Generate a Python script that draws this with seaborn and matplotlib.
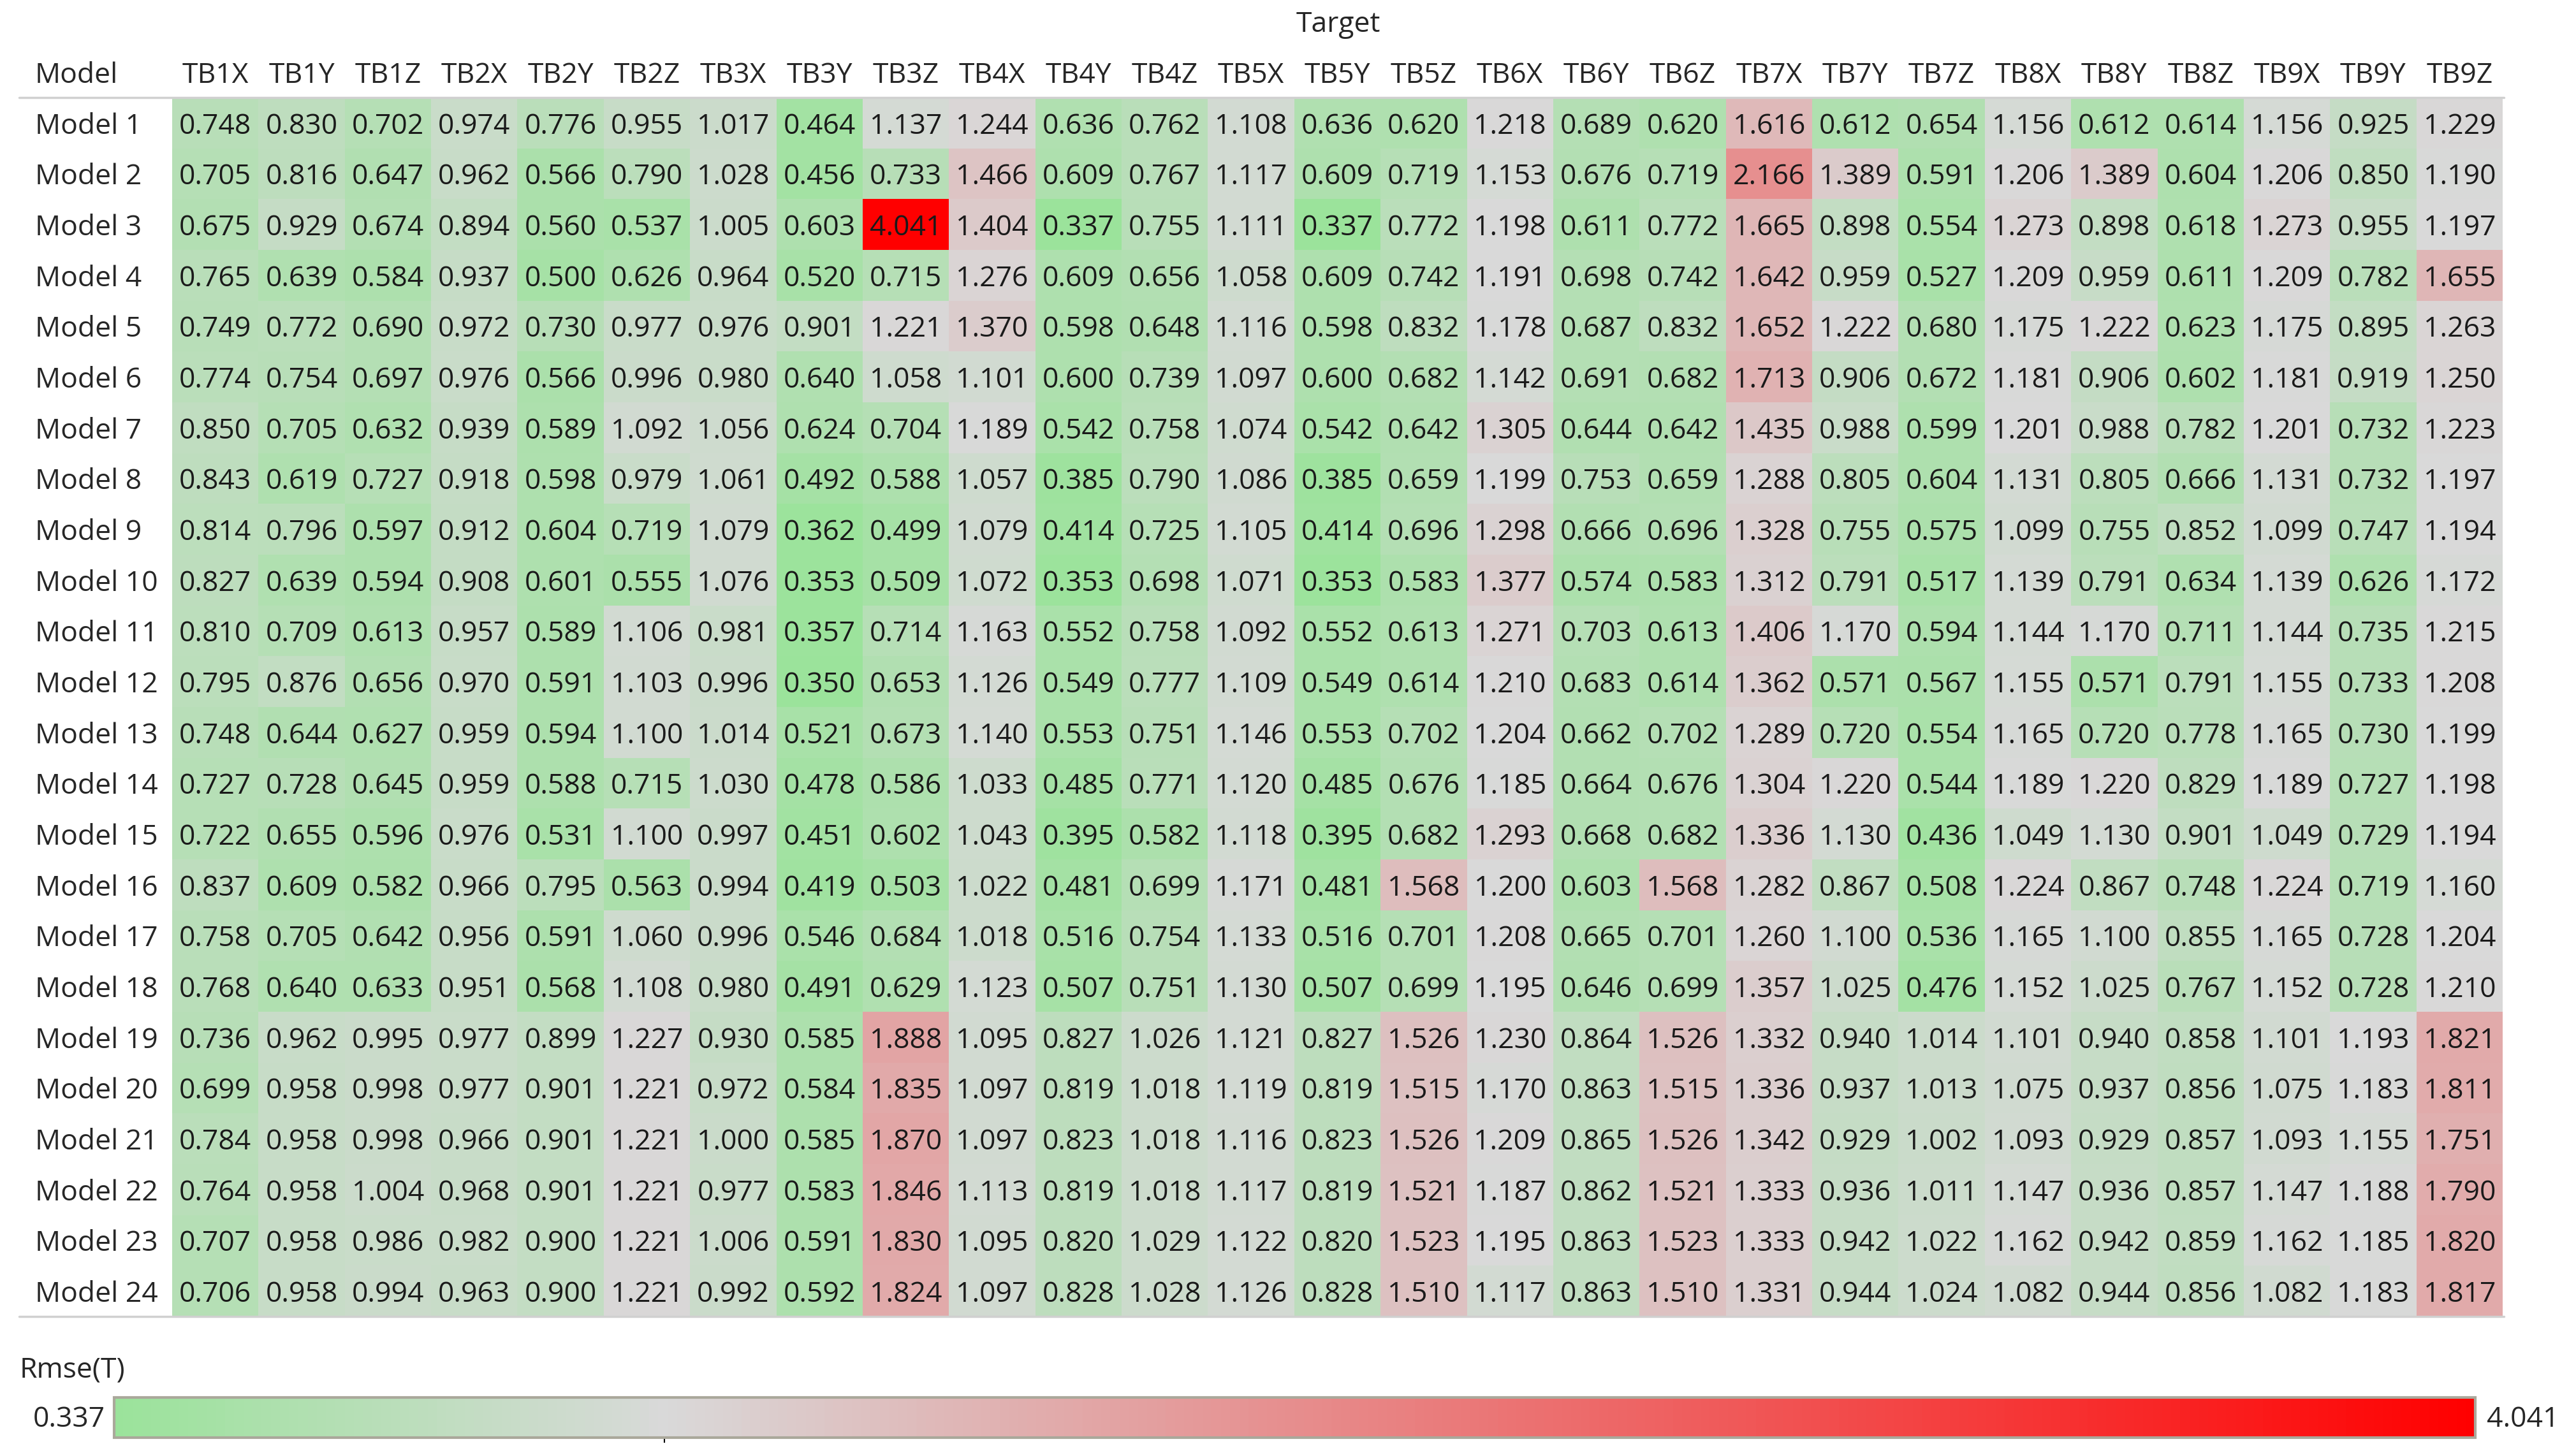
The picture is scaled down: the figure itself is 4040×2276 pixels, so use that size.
import numpy as np
import pandas as pd
import matplotlib.pyplot as plt
from matplotlib.colors import LinearSegmentedColormap
import seaborn as sns

## Данные: RMSE по моделям и целям

targets = ['TB1X', 'TB1Y', 'TB1Z', 'TB2X', 'TB2Y', 'TB2Z', 'TB3X', 'TB3Y', 'TB3Z',
           'TB4X', 'TB4Y', 'TB4Z', 'TB5X', 'TB5Y', 'TB5Z', 'TB6X', 'TB6Y', 'TB6Z',
           'TB7X', 'TB7Y', 'TB7Z', 'TB8X', 'TB8Y', 'TB8Z', 'TB9X', 'TB9Y', 'TB9Z']
models = ['Model %d' % i for i in range(1, 25)]

model_1 = [0.748, 0.830, 0.702, 0.974, 0.776, 0.955, 1.017, 0.464, 1.137, 1.244, 0.636, 0.762, 1.108, 0.636, 0.620, 1.218, 0.689, 0.620, 1.616, 0.612, 0.654, 1.156, 0.612, 0.614, 1.156, 0.925, 1.229]
model_2 = [0.705, 0.816, 0.647, 0.962, 0.566, 0.790, 1.028, 0.456, 0.733, 1.466, 0.609, 0.767, 1.117, 0.609, 0.719, 1.153, 0.676, 0.719, 2.166, 1.389, 0.591, 1.206, 1.389, 0.604, 1.206, 0.850, 1.190]
model_3 = [0.675, 0.929, 0.674, 0.894, 0.560, 0.537, 1.005, 0.603, 4.041, 1.404, 0.337, 0.755, 1.111, 0.337, 0.772, 1.198, 0.611, 0.772, 1.665, 0.898, 0.554, 1.273, 0.898, 0.618, 1.273, 0.955, 1.197]
model_4 = [0.765, 0.639, 0.584, 0.937, 0.500, 0.626, 0.964, 0.520, 0.715, 1.276, 0.609, 0.656, 1.058, 0.609, 0.742, 1.191, 0.698, 0.742, 1.642, 0.959, 0.527, 1.209, 0.959, 0.611, 1.209, 0.782, 1.655]
model_5 = [0.749, 0.772, 0.690, 0.972, 0.730, 0.977, 0.976, 0.901, 1.221, 1.370, 0.598, 0.648, 1.116, 0.598, 0.832, 1.178, 0.687, 0.832, 1.652, 1.222, 0.680, 1.175, 1.222, 0.623, 1.175, 0.895, 1.263]
model_6 = [0.774, 0.754, 0.697, 0.976, 0.566, 0.996, 0.980, 0.640, 1.058, 1.101, 0.600, 0.739, 1.097, 0.600, 0.682, 1.142, 0.691, 0.682, 1.713, 0.906, 0.672, 1.181, 0.906, 0.602, 1.181, 0.919, 1.250]
model_7 = [0.850, 0.705, 0.632, 0.939, 0.589, 1.092, 1.056, 0.624, 0.704, 1.189, 0.542, 0.758, 1.074, 0.542, 0.642, 1.305, 0.644, 0.642, 1.435, 0.988, 0.599, 1.201, 0.988, 0.782, 1.201, 0.732, 1.223]
model_8 = [0.843, 0.619, 0.727, 0.918, 0.598, 0.979, 1.061, 0.492, 0.588, 1.057, 0.385, 0.790, 1.086, 0.385, 0.659, 1.199, 0.753, 0.659, 1.288, 0.805, 0.604, 1.131, 0.805, 0.666, 1.131, 0.732, 1.197]
model_9 = [0.814, 0.796, 0.597, 0.912, 0.604, 0.719, 1.079, 0.362, 0.499, 1.079, 0.414, 0.725, 1.105, 0.414, 0.696, 1.298, 0.666, 0.696, 1.328, 0.755, 0.575, 1.099, 0.755, 0.852, 1.099, 0.747, 1.194]
model_10 = [0.827, 0.639, 0.594, 0.908, 0.601, 0.555, 1.076, 0.353, 0.509, 1.072, 0.353, 0.698, 1.071, 0.353, 0.583, 1.377, 0.574, 0.583, 1.312, 0.791, 0.517, 1.139, 0.791, 0.634, 1.139, 0.626, 1.172]
model_11 = [0.810, 0.709, 0.613, 0.957, 0.589, 1.106, 0.981, 0.357, 0.714, 1.163, 0.552, 0.758, 1.092, 0.552, 0.613, 1.271, 0.703, 0.613, 1.406, 1.170, 0.594, 1.144, 1.170, 0.711, 1.144, 0.735, 1.215]
model_12 = [0.795, 0.876, 0.656, 0.970, 0.591, 1.103, 0.996, 0.350, 0.653, 1.126, 0.549, 0.777, 1.109, 0.549, 0.614, 1.210, 0.683, 0.614, 1.362, 0.571, 0.567, 1.155, 0.571, 0.791, 1.155, 0.733, 1.208]
model_13 = [0.748, 0.644, 0.627, 0.959, 0.594, 1.100, 1.014, 0.521, 0.673, 1.140, 0.553, 0.751, 1.146, 0.553, 0.702, 1.204, 0.662, 0.702, 1.289, 0.720, 0.554, 1.165, 0.720, 0.778, 1.165, 0.730, 1.199]
model_14 = [0.727, 0.728, 0.645, 0.959, 0.588, 0.715, 1.030, 0.478, 0.586, 1.033, 0.485, 0.771, 1.120, 0.485, 0.676, 1.185, 0.664, 0.676, 1.304, 1.220, 0.544, 1.189, 1.220, 0.829, 1.189, 0.727, 1.198]
model_15 = [0.722, 0.655, 0.596, 0.976, 0.531, 1.100, 0.997, 0.451, 0.602, 1.043, 0.395, 0.582, 1.118, 0.395, 0.682, 1.293, 0.668, 0.682, 1.336, 1.130, 0.436, 1.049, 1.130, 0.901, 1.049, 0.729, 1.194]
model_16 = [0.837, 0.609, 0.582, 0.966, 0.795, 0.563, 0.994, 0.419, 0.503, 1.022, 0.481, 0.699, 1.171, 0.481, 1.568, 1.200, 0.603, 1.568, 1.282, 0.867, 0.508, 1.224, 0.867, 0.748, 1.224, 0.719, 1.160]
model_17 = [0.758, 0.705, 0.642, 0.956, 0.591, 1.060, 0.996, 0.546, 0.684, 1.018, 0.516, 0.754, 1.133, 0.516, 0.701, 1.208, 0.665, 0.701, 1.260, 1.100, 0.536, 1.165, 1.100, 0.855, 1.165, 0.728, 1.204]
model_18 = [0.768, 0.640, 0.633, 0.951, 0.568, 1.108, 0.980, 0.491, 0.629, 1.123, 0.507, 0.751, 1.130, 0.507, 0.699, 1.195, 0.646, 0.699, 1.357, 1.025, 0.476, 1.152, 1.025, 0.767, 1.152, 0.728, 1.210]
model_19 = [0.736, 0.962, 0.995, 0.977, 0.899, 1.227, 0.930, 0.585, 1.888, 1.095, 0.827, 1.026, 1.121, 0.827, 1.526, 1.230, 0.864, 1.526, 1.332, 0.940, 1.014, 1.101, 0.940, 0.858, 1.101, 1.193, 1.821]
model_20 = [0.699, 0.958, 0.998, 0.977, 0.901, 1.221, 0.972, 0.584, 1.835, 1.097, 0.819, 1.018, 1.119, 0.819, 1.515, 1.170, 0.863, 1.515, 1.336, 0.937, 1.013, 1.075, 0.937, 0.856, 1.075, 1.183, 1.811]
model_21 = [0.784, 0.958, 0.998, 0.966, 0.901, 1.221, 1.000, 0.585, 1.870, 1.097, 0.823, 1.018, 1.116, 0.823, 1.526, 1.209, 0.865, 1.526, 1.342, 0.929, 1.002, 1.093, 0.929, 0.857, 1.093, 1.155, 1.751]
model_22 = [0.764, 0.958, 1.004, 0.968, 0.901, 1.221, 0.977, 0.583, 1.846, 1.113, 0.819, 1.018, 1.117, 0.819, 1.521, 1.187, 0.862, 1.521, 1.333, 0.936, 1.011, 1.147, 0.936, 0.857, 1.147, 1.188, 1.790]
model_23 = [0.707, 0.958, 0.986, 0.982, 0.900, 1.221, 1.006, 0.591, 1.830, 1.095, 0.820, 1.029, 1.122, 0.820, 1.523, 1.195, 0.863, 1.523, 1.333, 0.942, 1.022, 1.162, 0.942, 0.859, 1.162, 1.185, 1.820]
model_24 = [0.706, 0.958, 0.994, 0.963, 0.900, 1.221, 0.992, 0.592, 1.824, 1.097, 0.828, 1.028, 1.126, 0.828, 1.510, 1.117, 0.863, 1.510, 1.331, 0.944, 1.024, 1.082, 0.944, 0.856, 1.082, 1.183, 1.817]

rows = [model_1, model_2, model_3, model_4, model_5, model_6, model_7, model_8,
        model_9, model_10, model_11, model_12, model_13, model_14, model_15, model_16,
        model_17, model_18, model_19, model_20, model_21, model_22, model_23, model_24]

table = pd.DataFrame(rows, index=models, columns=targets)

## Цветовая шкала: зеленый -> серый -> красный

vmin = table.values.min()
vmax = table.values.max()
mid = 1.2
mid_pos = (mid - vmin) / (vmax - vmin)
cmap = LinearSegmentedColormap.from_list(
    'rmse', [(0, '#9be39b'), (mid_pos, '#d9d9d9'), (1, '#ff0000')])

sns.set_style('white')
plt.rcParams['font.family'] = ['Open Sans', 'DejaVu Sans']

W, H = 4040, 2276
fs = 32
fig = plt.figure(figsize=(W / 100, H / 100), dpi=100)
ax = fig.add_axes([270 / W, 1 - 2065 / H, 3655 / W, 1912 / H])
cax = fig.add_axes([179 / W, 1 - 2255 / H, 3703 / W, 63 / H])

sns.heatmap(table, ax=ax, cmap=cmap, vmin=vmin, vmax=vmax,
            annot=True, fmt='.3f',
            annot_kws={'fontsize': fs, 'color': '#1a1a1a', 'va': 'center_baseline'},
            cbar_ax=cax, cbar_kws={'orientation': 'horizontal'})

ax.xaxis.tick_top()
ax.tick_params(axis='x', length=0, pad=9, labelsize=fs, rotation=0)
ax.tick_params(axis='y', length=0, pad=155, labelsize=fs, rotation=0)
for lbl in ax.get_yticklabels():
    lbl.set_ha('left')
    lbl.set_va('center_baseline')
ax.set_xlabel('')
ax.set_ylabel('')

# разделительные линии
x0 = (30 - 270) / 3655
x1 = (3927 - 270) / 3655
ax.axhline(0, xmin=x0, xmax=x1, color='#d0d0d0', lw=2.5, clip_on=False)
ax.axhline(len(models), xmin=x0, xmax=x1, color='#d0d0d0', lw=2.5, clip_on=False)

fig.text(2099 / W, 1 - 50 / H, 'Target', ha='center', va='baseline', fontsize=fs)
fig.text(55 / W, 1 - 130 / H, 'Model', ha='left', va='baseline', fontsize=fs)

# легенда-шкала
cbar = ax.collections[0].colorbar
cbar.outline.set_edgecolor('#aaa89b')
cbar.outline.set_linewidth(3)
cax.set_xticks([mid])
cax.tick_params(axis='x', length=12, width=1.5, direction='inout',
                labelbottom=False, color='black')

fig.text(31 / W, 1 - 2160 / H, 'Rmse(T)', ha='left', va='baseline', fontsize=fs)
fig.text(165 / W, 1 - 2238 / H, '%.3f' % vmin, ha='right', va='baseline', fontsize=fs)
fig.text(3900 / W, 1 - 2238 / H, '%.3f' % vmax, ha='left', va='baseline', fontsize=fs)

fig.savefig('out.png', dpi=100)
